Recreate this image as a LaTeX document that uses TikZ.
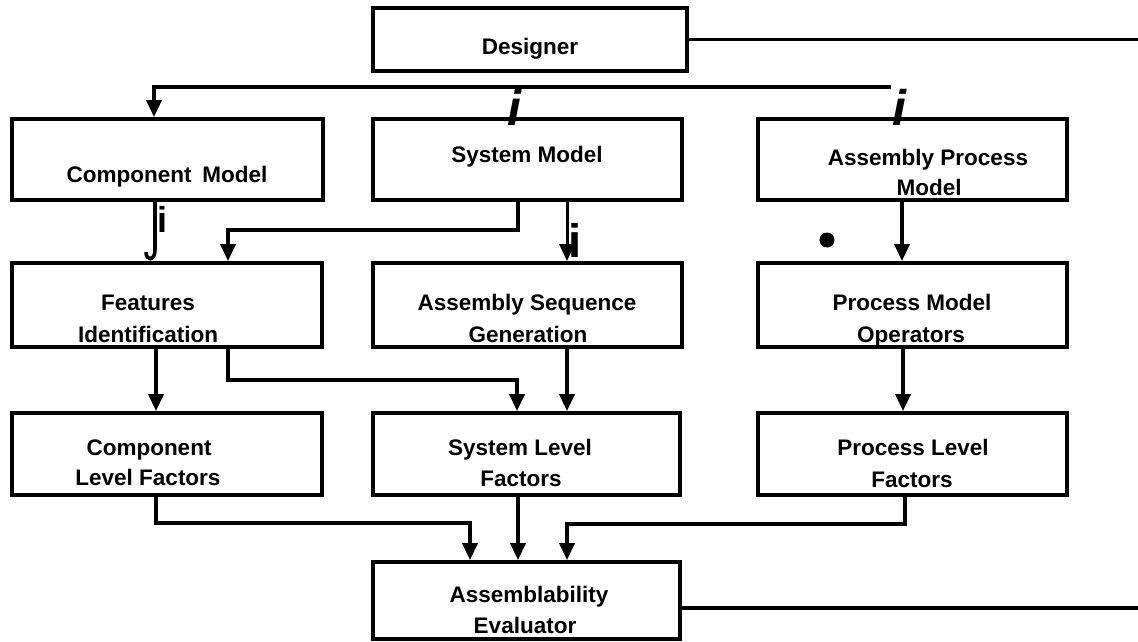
\documentclass[tikz,border=0pt]{standalone}
\usepackage{fontspec}
\setmainfont{Liberation Sans}
\usetikzlibrary{arrows.meta}
\begin{document}
\begin{tikzpicture}[x=1pt,y=-1pt,
  box/.style={draw,line width=3.8pt,inner sep=0pt},
  lbl/.style={font=\fontsize{22.5}{27}\selectfont\bfseries,anchor=base,inner sep=0pt},
  conn/.style={line width=3.6pt},
  arr/.style={conn,-{Triangle[width=15pt,length=17pt]}},
  imark/.style={anchor=base,inner sep=0pt}
]
\useasboundingbox (0,0) rectangle (1138,642);

% boxes
\node[box,minimum width=314pt,minimum height=63pt] (des) at (530,39.5) {};
\node[box,minimum width=311pt,minimum height=81pt] (cm) at (167.5,159.5) {};
\node[box,minimum width=309pt,minimum height=81pt] (sm) at (527.5,159.5) {};
\node[box,minimum width=309pt,minimum height=81pt] (apm) at (912.5,159.5) {};
\node[box,minimum width=310pt,minimum height=84pt] (feat) at (167,305) {};
\node[box,minimum width=309pt,minimum height=84pt] (asg) at (527.5,305) {};
\node[box,minimum width=309pt,minimum height=84pt] (pmo) at (912.5,305) {};
\node[box,minimum width=310pt,minimum height=82pt] (clf) at (167,454) {};
\node[box,minimum width=307pt,minimum height=82pt] (slf) at (526.5,454) {};
\node[box,minimum width=309pt,minimum height=82pt] (plf) at (912.5,454) {};
\node[box,minimum width=307pt,minimum height=77pt] (ae) at (526.5,600.5) {};

% labels
\node[lbl] (des-t) at (530,55) {Designer};
\node[lbl] (cm-t) at (167,182) {Component\hspace{0.2em} Model};
\node[lbl] (sm-t) at (527,162) {System Model};
\node[lbl] (apm-t1) at (928,165) {Assembly Process};
\node[lbl] (apm-t2) at (929,195) {Model};
\node[lbl] (feat-t1) at (148,310) {Features};
\node[lbl] (feat-t2) at (148,342) {Identification};
\node[lbl] (asg-t1) at (527,310) {Assembly Sequence};
\node[lbl] (asg-t2) at (528,342) {Generation};
\node[lbl] (pmo-t1) at (912,310) {Process Model};
\node[lbl] (pmo-t2) at (911,342) {Operators};
\node[lbl] (clf-t1) at (149,455) {Component};
\node[lbl] (clf-t2) at (148,485) {Level Factors};
\node[lbl] (slf-t1) at (520,455) {System Level};
\node[lbl] (slf-t2) at (521,486) {Factors};
\node[lbl] (plf-t1) at (913,455) {Process Level};
\node[lbl] (plf-t2) at (912,487) {Factors};
\node[lbl] (ae-t1) at (529,602) {Assemblability};
\node[lbl] (ae-t2) at (525,633) {Evaluator};

% free ends
\coordinate (rt1) at (1138,39.5);
\coordinate (rt2) at (1138,608);
\coordinate (bus) at (891,87);

% connectors
\draw[conn] (des.east) -- (rt1);
\draw[conn] ([yshift=-7.5pt]ae.east) -- (rt2);
\draw[arr] (bus) -| ([xshift=-13.5pt]cm.north);
\draw[conn] ([xshift=-12.5pt]cm.south) -- ([xshift=-12pt,yshift=11pt]feat.north)
  .. controls ([xshift=-12pt]feat.north) and ([xshift=-21pt]feat.north) .. ([xshift=-21pt,yshift=9pt]feat.north);
\draw[arr] ([xshift=-9.5pt]sm.south) |- ([xshift=61pt,yshift=31pt]feat.north) -- ([xshift=61pt]feat.north);
\draw[arr,line width=3pt] ([xshift=39.5pt]sm.south) -- ([xshift=39.5pt]asg.north);
\draw[arr] ([xshift=-10.5pt]apm.south) -- ([xshift=-10.5pt]pmo.north);
\draw[arr] ([xshift=-11pt]feat.south) -- ([xshift=-11pt]clf.north);
\draw[arr] ([xshift=61pt]feat.south) |- ([xshift=-9.5pt,yshift=31pt]slf.north) -- ([xshift=-9.5pt]slf.north);
\draw[arr] ([xshift=39.5pt]asg.south) -- ([xshift=40.5pt]slf.north);
\draw[arr] ([xshift=-9.5pt]pmo.south) -- ([xshift=-9.5pt]plf.north);
\draw[arr] ([xshift=-11pt]clf.south) |- ([xshift=-56.5pt,yshift=37pt]ae.north) -- ([xshift=-56.5pt]ae.north);
\draw[arr] ([xshift=-8.5pt]slf.south) -- ([xshift=-8.5pt]ae.north);
\draw[arr] ([xshift=-7.5pt]plf.south) |- ([xshift=40.5pt,yshift=36pt]ae.north) -- ([xshift=40.5pt]ae.north);

% marks
\node[circle,fill,inner sep=0pt,minimum size=15pt] (dot) at (827,240) {};
\node[imark,font=\fontsize{50}{50}\selectfont\bfseries\itshape] (i1) at (514,125) {i};
\node[imark,font=\fontsize{50}{50}\selectfont\bfseries\itshape] (i2) at (899,125) {i};
\node[imark,font=\fontsize{36}{36}\selectfont\bfseries] (i3) at (162,232) {i};
\node[imark,font=\fontsize{47}{47}\selectfont\bfseries] (i4) at (575,257) {i};
\end{tikzpicture}
\end{document}
